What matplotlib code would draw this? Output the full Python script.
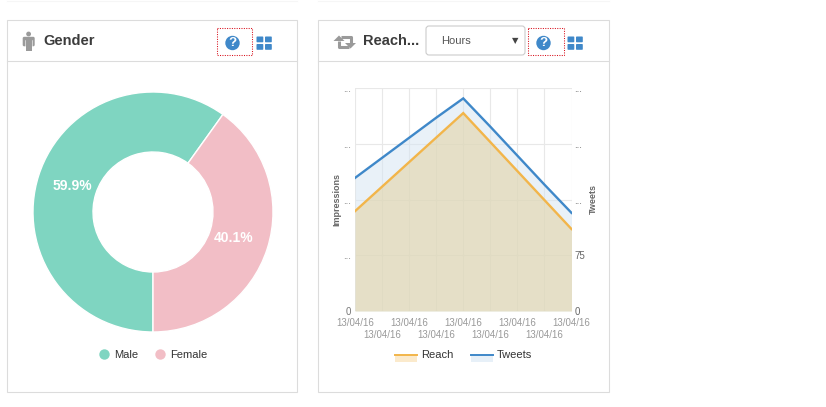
import matplotlib
matplotlib.use("Agg")
import matplotlib.pyplot as plt
from matplotlib.patches import Rectangle, Circle, FancyBboxPatch, Polygon

plt.rcParams["font.family"] = ["Liberation Sans", "DejaVu Sans"]

W, H = 826, 407

# data
gender_labels = ["Male", "Female"]
gender_values = [59.9, 40.1]
gender_colors = ["#7fd5c1", "#f2bec6"]

time_labels = ["13/04/16"] * 9
reach_values = [179, 223, 267, 311, 355, 303, 251, 199, 147]
tweet_values = [179, 206, 233, 260, 286, 248, 209, 170, 132]
left_ticks = [0, 100, 200, 300, 400]
left_tick_labels = ["0", "...", "...", "...", "..."]
right_ticks = [0, 75, 150, 225, 300]
right_tick_labels = ["0", "75", "...", "...", "..."]


def px_axes(fig, x0, y0, x1, y1, **kw):
    return fig.add_axes([x0 / W, 1 - y1 / H, (x1 - x0) / W, (y1 - y0) / H], **kw)


def overlay(fig, z):
    a = fig.add_axes([0, 0, 1, 1], zorder=z)
    a.set_xlim(0, W)
    a.set_ylim(H, 0)
    a.axis("off")
    return a


fig = plt.figure(figsize=(W / 100, H / 100), dpi=100, facecolor="white")

# overlays for the page furniture, in pixels
bg = overlay(fig, -1)
fg = overlay(fig, 5)

border = "#dcdcdc"
for x0, x1 in [(7, 297), (318, 609)]:
    bg.add_patch(Rectangle((x0, 20), x1 - x0, 372, fc="white", ec=border, lw=0.8))
    bg.plot([x0, x1], [61, 61], color=border, lw=0.8)
    bg.plot([x0, x1], [0.5, 0.5], color="#f6f6f6", lw=0.8)

bg.text(43, 41, "Gender", fontsize=10.5, fontweight="bold", color="#3c3c3c", va="center")
bg.text(363, 41, "Reach...", fontsize=10.5, fontweight="bold", color="#3c3c3c", va="center")

# person icon
grey = "#9a9a9a"
bg.add_patch(Circle((28.6, 34), 2.4, fc=grey, ec="none"))
bg.add_patch(FancyBboxPatch((22.7, 36.8), 12, 9.5, boxstyle="round,pad=0,rounding_size=1.5", fc=grey, ec="none"))
bg.add_patch(Rectangle((25.6, 38), 6, 13, fc=grey, ec="none"))
bg.plot([25.2, 25.2], [40, 47], color="white", lw=0.4)
bg.plot([32, 32], [40, 47], color="white", lw=0.4)

# retweet icon
bg.add_patch(Polygon([(333.5, 41), (344.5, 41), (339, 35.5)], fc=grey, ec="none"))
bg.plot([339, 339, 349], [41, 46.5, 46.5], color=grey, lw=2.2, solid_capstyle="butt")
bg.add_patch(Polygon([(345, 43), (356, 43), (350.5, 48.5)], fc=grey, ec="none"))
bg.plot([341, 350.5, 350.5], [37.2, 37.2, 43], color=grey, lw=2.2, solid_capstyle="butt")

# help + layout icons
blue = "#3f88c9"
for cx in [232.5, 543.5]:
    bg.add_patch(Circle((cx, 43), 7.2, fc=blue, ec="none"))
    bg.text(cx, 43.3, "?", color="white", fontsize=9.5, fontweight="bold", ha="center", va="center")
for gx in [256.5, 567.5]:
    for dx in [0, 8.5]:
        for dy in [0, 7.5]:
            bg.add_patch(FancyBboxPatch((gx + dx, 36.5 + dy), 6.8, 5.8, boxstyle="round,pad=0,rounding_size=0.8", fc=blue, ec="none"))
for x0, x1 in [(217, 252), (528, 564)]:
    bg.add_patch(Rectangle((x0, 28), x1 - x0, 27, fc="none", ec="#d8101c", lw=0.75, ls=(0, (1, 1.3))))

# hours dropdown
bg.add_patch(FancyBboxPatch((426, 26), 99, 29, boxstyle="round,pad=0,rounding_size=3", fc="white", ec="#cccccc", lw=0.8))
bg.text(441, 41.5, "Hours", fontsize=8, color="#555555", va="center")
bg.text(515.5, 40.5, "▼", fontsize=6, color="#444444", ha="center", va="center", family="DejaVu Sans")

# donut
pie_ax = px_axes(fig, 33, 92, 273, 332)
pie_ax.pie(gender_values, colors=gender_colors, startangle=270, counterclock=False, radius=1,
           wedgeprops=dict(width=0.5, edgecolor="white", linewidth=1))
pie_ax.set_xlim(-1, 1)
pie_ax.set_ylim(-1, 1)
fg.text(72, 186, f"{gender_values[0]}%", color="white", fontsize=10, fontweight="bold", ha="center", va="center")
fg.text(234, 238, f"{gender_values[1]}%", color="white", fontsize=10, fontweight="bold", ha="center", va="center")

# gender legend
for cx, tx, lab, col in zip([104.5, 160.5], [114, 170], gender_labels, gender_colors):
    bg.add_patch(Circle((cx, 354.5), 5.2, fc=col, ec="none"))
    bg.text(tx, 354.5, lab, fontsize=8, color="#333333", va="center")

# line chart
ax = px_axes(fig, 355, 88, 571.5, 311)
ax.patch.set_alpha(0)
xs = list(range(len(time_labels)))
tweets_on_left = [v * 4 / 3 for v in tweet_values]
ax.set_xlim(0, 8)
ax.set_ylim(0, 400)
ax.fill_between(xs, tweets_on_left, color="#d5e5f3", alpha=0.5, lw=0)
ax.fill_between(xs, reach_values, color="#e3d4a7", alpha=0.6, lw=0)
ax.plot(xs, tweets_on_left, color=blue, lw=1.7, solid_joinstyle="miter")
ax.plot(xs, reach_values, color="#f2b54a", lw=1.7, solid_joinstyle="miter")
ax.set_xticks(xs)
ax.set_xticklabels([])
ax.set_yticks(left_ticks)
ax.set_yticklabels(left_tick_labels, fontsize=7, color="#777777")
ax.grid(True, color="#e8e8e8", lw=0.8)
ax.set_axisbelow(True)
ax.tick_params(length=0, pad=3)
for s in ax.spines.values():
    s.set_visible(False)
ax.set_ylabel("Impressions", fontsize=6.5, fontweight="bold", color="#666666", labelpad=1)

ax2 = ax.twinx()
ax2.set_ylim(0, 300)
ax2.set_yticks(right_ticks)
ax2.set_yticklabels(right_tick_labels, fontsize=7, color="#666666")
ax2.tick_params(length=0, pad=2)
for s in ax2.spines.values():
    s.set_visible(False)
ax2.set_ylabel("Tweets", fontsize=6.5, fontweight="bold", color="#666666", labelpad=3)

# staggered date labels
for i, lab in enumerate(time_labels):
    ax.annotate(lab, (i, 0), xycoords="data", xytext=(0, -7 if i % 2 == 0 else -19),
                textcoords="offset pixels", fontsize=7, color="#999999", ha="center", va="top")

# line legend
for x0, col, a, lab, tx in [(395, "#f2b54a", 0.28, "Reach", 421), (471, blue, 0.12, "Tweets", 497)]:
    bg.add_patch(Rectangle((x0, 355), 22, 6.5, fc=col, alpha=a, ec="none"))
    bg.plot([x0, x0 + 22], [355.3, 355.3], color=col, lw=1.4)
    bg.text(tx, 355, lab, fontsize=8, color="#333333", va="center")

fig.savefig("out.png", dpi=100)
